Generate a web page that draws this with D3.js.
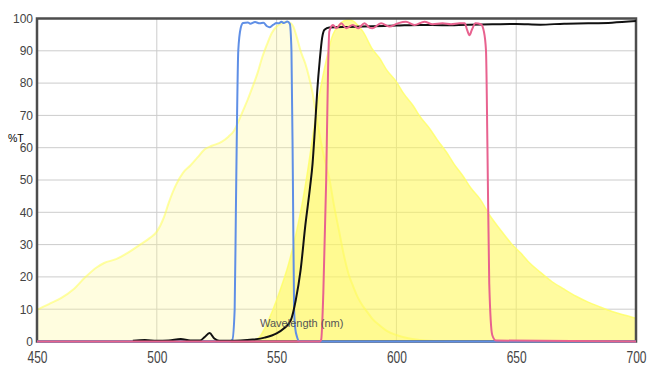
<!DOCTYPE html>
<html>
<head>
<meta charset="utf-8">
<script src="https://cdn.jsdelivr.net/npm/d3@7"></script>
<style>
  body { margin: 0; background: #fff; }
  svg { display: block; font-family: "Liberation Sans", Arial, sans-serif; }
</style>
</head>
<body>
<script>
  // tick values
  const xTicks = [450, 500, 550, 600, 650, 700];
  const yTicks = [0, 10, 20, 30, 40, 50, 60, 70, 80, 90, 100];

  // excitation spectrum (pale yellow) [nm, %T]
  const excitation = [
    [450, 9.8], [455, 11.6], [460, 13.4], [465, 16], [470, 19.8], [475, 23], [478, 24.3],
    [483, 25.5], [488, 27.5], [493, 30], [497, 32], [500, 34], [503, 38.5], [505, 43],
    [508, 48.5], [511, 52.3], [514, 54.5], [517, 57], [520, 59.5], [523, 60.6], [527, 61.8],
    [530, 63.5], [532, 65], [534, 68], [536, 71.5], [538, 75], [540, 78.9], [542, 83],
    [544, 88], [546, 92], [548, 95.5], [550, 97.5], [552, 98.4], [554, 99], [556, 98.5],
    [557, 97.5], [558.5, 94], [560, 90], [562, 86], [563.5, 82], [565, 77], [567, 68],
    [569, 60], [570.5, 55], [572, 50.5], [574, 42], [576, 34.5], [578, 27], [580, 21],
    [582, 17], [584, 13.5], [586, 11], [588, 9], [590, 7], [593, 5], [596, 3.3],
    [600, 2], [605, 1], [610, 0.5], [620, 0]
  ];

  // emission spectrum (bright yellow)
  const emission = [
    [540, 0], [543, 1.5], [548, 9], [552, 17], [555, 24], [558, 33], [561, 44], [563, 53],
    [565, 63], [567, 73], [569, 81], [571, 88], [573, 94], [576, 98], [580, 99.6],
    [582, 99.2], [584, 97.8], [586, 96], [590, 90.5], [593, 87.7], [596, 84], [600, 80.4],
    [603, 76.8], [607, 73], [610, 69.5], [614, 65.8], [617, 62.5], [621, 58.5], [624, 55],
    [628, 51], [631, 47.6], [635, 44], [639, 39], [643, 35], [648, 30.3], [652, 27.3],
    [655, 24.8], [660, 21.5], [665, 18.5], [670, 16.2], [675, 14], [680, 12.2],
    [685, 10.7], [690, 9.3], [695, 8.2], [700, 7.2]
  ];

  // excitation filter (blue)
  const exFilter = [
    [450, 0], [530, 0], [531.5, 0.5], [532.5, 10], [533, 40], [533.5, 70], [534, 90],
    [535, 97], [536, 98.6], [538, 98.8], [539, 98.4], [541, 98.9], [543, 98.5],
    [544.5, 98.7], [546, 97.6], [547, 97.3], [548.5, 98], [550, 98.6], [551, 98.5],
    [552, 99], [553, 98.6], [554.5, 99.1], [555.5, 98.4], [556.2, 90], [556.8, 50],
    [557.3, 10], [557.8, 4], [558.5, 1.5], [559.6, 0], [700, 0]
  ];

  // dichroic (black)
  const dichroic = [
    [490, 0.2], [495, 0.5], [500, 0.2], [505, 0.3], [510, 0.8], [514, 0.3], [518, 0.3],
    [520, 1.4], [522, 2.6], [524, 0.9], [526, 0.2], [530, 0.2], [535, 0.3], [540, 0.6],
    [545, 1.2], [550, 2.5], [553, 4], [556, 6.7], [558, 12.8], [560, 22], [562, 36],
    [564, 48], [565, 55], [566, 66], [567, 78], [568, 87], [569, 94], [570, 96.5],
    [572, 97.2], [580, 97.4], [590, 97.6], [600, 97.8], [610, 98], [620, 97.9],
    [630, 98.1], [640, 98.2], [650, 98.3], [660, 98.1], [670, 98.4], [680, 98.5],
    [690, 98.7], [700, 99.2]
  ];

  // emission filter (pink)
  const emFilter = [
    [450, 0], [568, 0], [568.6, 0.5], [569.5, 15], [570.7, 50], [571.5, 85], [572, 96],
    [573.5, 98], [575, 97], [577, 98.5], [579, 97], [581.8, 98], [584, 97], [586.7, 98.5],
    [588.75, 97.2], [590, 97], [593.6, 98.5], [597, 97.5], [600.6, 98.5], [604, 99],
    [607.5, 98], [611.7, 99], [615.1, 98.2], [619.3, 98.5], [622.8, 98.2], [626.3, 98.5],
    [628.5, 98.5], [629.5, 96.5], [630.5, 94.8], [631.5, 96.5], [633, 98.5], [635.3, 98.2],
    [636.5, 96], [637.4, 90], [638, 60], [638.75, 18], [640, 2], [641.5, 0.3], [700, 0]
  ];

  const W = 661, H = 375;
  const plot = { left: 37, right: 636, top: 18.5, bottom: 341.5 };

  const svg = d3.select('body').append('svg')
    .attr('width', W)
    .attr('height', H);

  const x = d3.scaleLinear().domain([450, 700]).range([plot.left, plot.right]);
  const y = d3.scaleLinear().domain([0, 100]).range([plot.bottom, plot.top]);

  // gridlines
  svg.append('g')
    .selectAll('line')
    .data(xTicks.slice(1, -1))
    .enter().append('line')
      .attr('x1', d => x(d)).attr('x2', d => x(d))
      .attr('y1', plot.top).attr('y2', plot.bottom)
      .attr('stroke', '#cccccc')
      .attr('stroke-width', 1);

  svg.append('g')
    .selectAll('line')
    .data(yTicks.slice(1, -1))
    .enter().append('line')
      .attr('x1', plot.left).attr('x2', plot.right)
      .attr('y1', d => y(d)).attr('y2', d => y(d))
      .attr('stroke', '#cccccc')
      .attr('stroke-width', 1);

  const area = d3.area()
    .x(d => x(d[0]))
    .y0(y(0))
    .y1(d => y(d[1]))
    .curve(d3.curveMonotoneX);

  const line = d3.line()
    .x(d => x(d[0]))
    .y(d => y(d[1]))
    .curve(d3.curveMonotoneX);

  // spectra
  svg.append('path')
    .datum(excitation)
    .attr('d', area)
    .attr('fill', 'rgba(255,250,150,0.3)');
  svg.append('path')
    .datum(excitation)
    .attr('d', line)
    .attr('fill', 'none')
    .attr('stroke', 'rgba(255,255,90,0.55)')
    .attr('stroke-width', 2);

  svg.append('path')
    .datum(emission)
    .attr('d', area)
    .attr('fill', 'rgba(255,247,80,0.55)');
  svg.append('path')
    .datum(emission)
    .attr('d', line)
    .attr('fill', 'none')
    .attr('stroke', 'rgba(255,255,100,0.8)')
    .attr('stroke-width', 1.5);

  // frame
  svg.append('rect')
    .attr('x', plot.left).attr('y', plot.top)
    .attr('width', plot.right - plot.left).attr('height', plot.bottom - plot.top)
    .attr('fill', 'none')
    .attr('stroke', '#4d4d4d')
    .attr('stroke-width', 2.5);

  // filter curves
  [[exFilter, '#5f8fe6'], [dichroic, '#111111'], [emFilter, '#e8628f']].forEach(([data, color]) => {
    svg.append('path')
      .datum(data)
      .attr('d', line)
      .attr('fill', 'none')
      .attr('stroke', color)
      .attr('stroke-width', 2)
      .attr('stroke-linejoin', 'round');
  });

  // axes
  const yAxis = svg.append('g')
    .attr('transform', `translate(${plot.left},0)`)
    .call(d3.axisLeft(y).tickValues(yTicks).tickSize(0).tickPadding(4));
  yAxis.select('.domain').remove();
  yAxis.selectAll('text')
    .attr('fill', '#444')
    .style('font-size', '12px')
    .style('font-family', '"Liberation Sans", Arial, sans-serif');

  const xAxis = svg.append('g')
    .attr('transform', `translate(0,${plot.bottom})`)
    .call(d3.axisBottom(x).tickValues(xTicks).tickSize(0));
  xAxis.select('.domain').remove();
  xAxis.selectAll('text')
    .attr('fill', '#444')
    .attr('y', 7.5)
    .attr('transform', 'scale(1,1.35)')
    .style('font-size', '12px')
    .style('font-family', '"Liberation Sans", Arial, sans-serif');

  // axis titles
  svg.append('text')
    .attr('x', 8)
    .attr('y', 142)
    .attr('fill', '#000')
    .style('font-size', '10.5px')
    .text('%T');

  svg.append('text')
    .attr('x', 260)
    .attr('y', 326.5)
    .attr('fill', '#555')
    .style('font-size', '11px')
    .text('Wavelength (nm)');
</script>
</body>
</html>
